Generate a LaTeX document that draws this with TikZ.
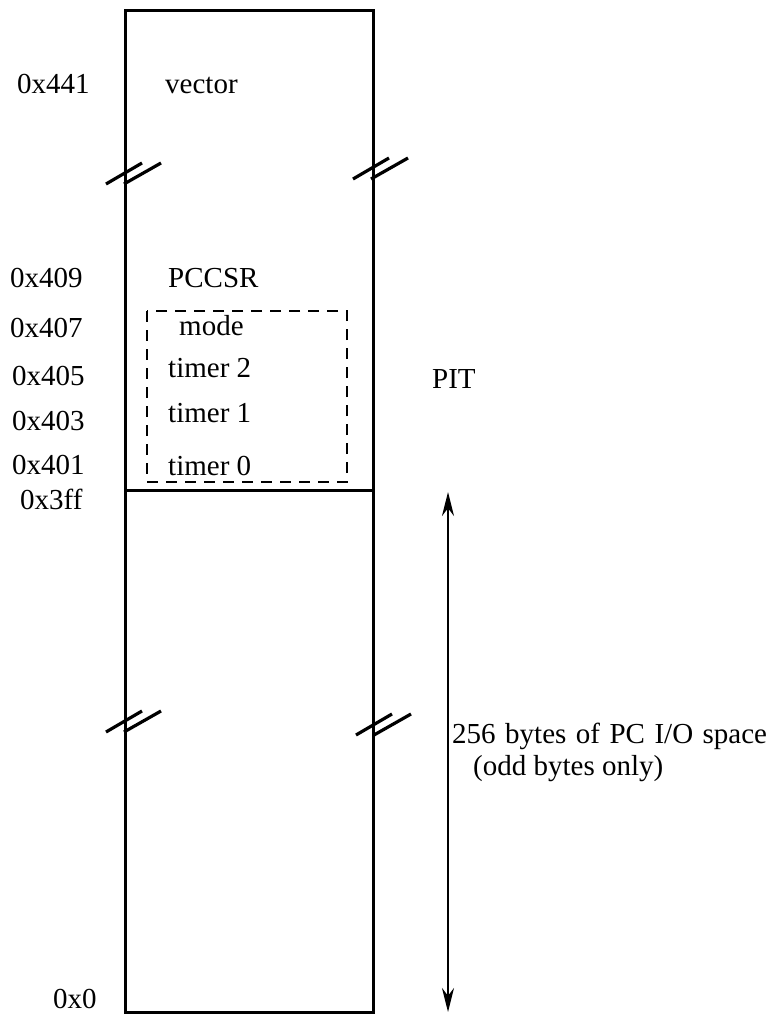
\documentclass[tikz,border=0pt]{standalone}
\usepackage{fontspec}
\setmainfont{Liberation Serif}
\usetikzlibrary{arrows.meta}
\begin{document}
\begin{tikzpicture}[x=1pt,y=-1pt,
  lbl/.style={anchor=base west,inner sep=0pt,font=\fontsize{29}{34}\selectfont},
  frame/.style={line width=3pt},
  brk/.style={line width=3.2pt},
  dashbox/.style={line width=2.6pt,dash pattern=on 11pt off 8pt},
  dim/.style={line width=2.2pt,{Stealth[length=24pt,width=12pt]}-{Stealth[length=24pt,width=12pt]}}]
\useasboundingbox (0,0) rectangle (780,1017);
% memory column
\draw[frame] (125,10) rectangle (373,1012);
\draw[frame] (125,490) -- (373,490);
% dashed PIT box
\draw[dashbox] (147,311) rectangle (347,482);
% break marks
\foreach \x/\y in {125/174,372/169,125/722,375/725}{
  \draw[brk] (\x-19,\y+10) -- (\x+17,\y-11);
  \draw[brk] (\x-1,\y+10) -- (\x+36,\y-11);
}
% address labels
\node[lbl] (a441) at (17,93) {0x441};
\node[lbl] (a409) at (10,287) {0x409};
\node[lbl] (a407) at (10,337) {0x407};
\node[lbl] (a405) at (12,385) {0x405};
\node[lbl] (a403) at (12,430) {0x403};
\node[lbl] (a401) at (12,474) {0x401};
\node[lbl] (a3ff) at (20,509) {0x3ff};
\node[lbl] (a0) at (53,1008) {0x0};
% register labels
\node[lbl] (vec) at (165,93) {vector};
\node[lbl] (pccsr) at (168,287) {PCCSR};
\node[lbl] (mode) at (179,335) {mode};
\node[lbl] (t2) at (168,377) {timer 2};
\node[lbl] (t1) at (168,422) {timer 1};
\node[lbl] (t0) at (168,475) {timer 0};
\node[lbl] (pit) at (432,388) {PIT};
\node[lbl] (space) at (452,743) {\spaceskip=9.5pt 256 bytes of PC I/O space};
\node[lbl] (odd) at (473,775) {(odd bytes only)};
% dimension arrow
\coordinate (top) at (448,492);
\coordinate (bot) at (448,1012);
\draw[dim] (top) -- (bot);
\end{tikzpicture}
\end{document}
